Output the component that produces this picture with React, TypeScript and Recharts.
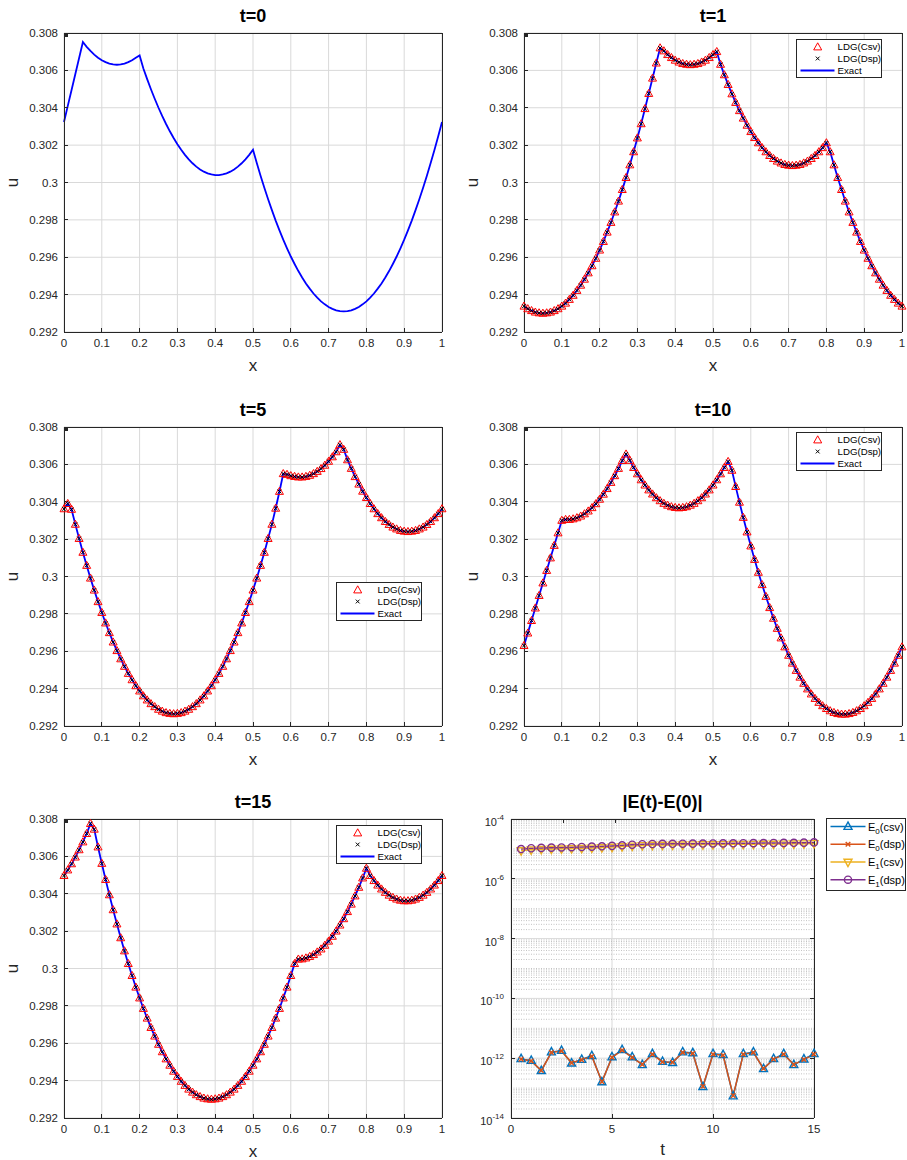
import React from "react";
import {
  CartesianGrid,
  ComposedChart,
  Legend,
  Line,
  ReferenceLine,
  XAxis,
  YAxis,
} from "recharts";

const FONT = '"Liberation Sans", Arial, Helvetica, sans-serif';
const INK = "#262626";
const GRID = "#d9d9d9";
const axisStroke = { stroke: INK, shapeRendering: "crispEdges" };

// sample positions on [0,1], step 0.01
const xs = Array.from({ length: 101 }, (_, i) => i / 100);
const xTicks = [0, 0.1, 0.2, 0.3, 0.4, 0.5, 0.6, 0.7, 0.8, 0.9, 1];
const uTicks = [0.292, 0.294, 0.296, 0.298, 0.3, 0.302, 0.304, 0.306, 0.308];

const u_t0 = [
  0.30324, 0.3041, 0.30495, 0.30581, 0.30666, 0.30752,
  0.30726, 0.30704, 0.30684, 0.30668, 0.30654, 0.30644, 0.30636, 0.30632, 0.3063, 0.30632, 0.30636, 0.30644, 0.30654, 0.30668, 0.3068,
  0.3061, 0.30553, 0.30499, 0.30448, 0.304, 0.30355, 0.30313, 0.30274, 0.30238, 0.30205,
  0.30175, 0.30148, 0.30124, 0.30103, 0.30085, 0.3007, 0.30058, 0.30049, 0.30043, 0.3004,
  0.3004, 0.30043, 0.30049, 0.30058, 0.3007, 0.30085, 0.30103, 0.30124, 0.30148, 0.30175,
  0.30104, 0.30036, 0.29972, 0.2991, 0.29852, 0.29796, 0.29744, 0.29694, 0.29648, 0.29604,
  0.29564, 0.29526, 0.29492, 0.2946, 0.29432, 0.29406, 0.29384, 0.29364, 0.29348, 0.29334,
  0.29324, 0.29316, 0.29312, 0.2931, 0.29312, 0.29316, 0.29324, 0.29334, 0.29348, 0.29364,
  0.29384, 0.29406, 0.29432, 0.2946, 0.29492, 0.29526, 0.29564, 0.29604, 0.29648, 0.29694,
  0.29744, 0.29796, 0.29852, 0.2991, 0.29972, 0.30036, 0.30104, 0.30174, 0.30248, 0.30324,
];

const u_t1 = [
  0.29338, 0.29324, 0.29314, 0.29306, 0.29302, 0.293, 0.29302, 0.29306, 0.29314, 0.29324, 0.29338,
  0.29354, 0.29374, 0.29396, 0.29422, 0.2945, 0.29482, 0.29516, 0.29554, 0.29594, 0.29638,
  0.29684, 0.29734, 0.29786, 0.29842, 0.299, 0.29962, 0.30026, 0.30094, 0.30164, 0.30238,
  0.30314, 0.30395, 0.30476, 0.30558, 0.30639, 0.3072, 0.30704, 0.30684, 0.30668, 0.30654,
  0.30644, 0.30636, 0.30632, 0.3063, 0.30632, 0.30636, 0.30644, 0.30654, 0.30668, 0.30684,
  0.307, 0.30632, 0.30576, 0.30524, 0.30474, 0.30428, 0.30384, 0.30344, 0.30306, 0.30272,
  0.3024, 0.30212, 0.30186, 0.30164, 0.30144, 0.30128, 0.30114, 0.30104, 0.30096, 0.30092,
  0.3009, 0.30092, 0.30096, 0.30104, 0.30114, 0.30128, 0.30144, 0.30164, 0.30186, 0.30212,
  0.30164, 0.30094, 0.30026, 0.29962, 0.299, 0.29842, 0.29786, 0.29734, 0.29684, 0.29638,
  0.29594, 0.29554, 0.29516, 0.29482, 0.2945, 0.29422, 0.29396, 0.29374, 0.29354, 0.29338,
];

const u_t5 = [
  0.30362, 0.3039, 0.30359, 0.30279, 0.30203, 0.30129, 0.30059, 0.29991, 0.29927, 0.29865, 0.29807,
  0.29751, 0.29699, 0.29649, 0.29603, 0.29559, 0.29519, 0.29481, 0.29447, 0.29415, 0.29387,
  0.29361, 0.29339, 0.29319, 0.29303, 0.29289, 0.29279, 0.29271, 0.29267, 0.29265, 0.29267,
  0.29271, 0.29279, 0.29289, 0.29303, 0.29319, 0.29339, 0.29361, 0.29387, 0.29415, 0.29447,
  0.29481, 0.29519, 0.29559, 0.29603, 0.29649, 0.29699, 0.29751, 0.29807, 0.29865, 0.29927,
  0.29991, 0.30059, 0.30129, 0.30203, 0.30279, 0.30365, 0.30455, 0.3055, 0.30546, 0.30539,
  0.30535, 0.30532, 0.30532, 0.30535, 0.30541, 0.3055, 0.30562, 0.30577, 0.30595, 0.30616,
  0.3064, 0.30667, 0.30705, 0.3068, 0.30624, 0.30578, 0.30534, 0.30494, 0.30456, 0.30422,
  0.3039, 0.30362, 0.30336, 0.30314, 0.30294, 0.30278, 0.30264, 0.30254, 0.30246, 0.30242,
  0.3024, 0.30242, 0.30246, 0.30254, 0.30264, 0.30278, 0.30294, 0.30314, 0.30336, 0.30362,
];

const u_t10 = [
  0.2963, 0.29697, 0.29764, 0.29831, 0.29898, 0.29965, 0.30032, 0.30099, 0.30166, 0.30233, 0.303,
  0.30305, 0.30305, 0.30308, 0.30314, 0.30323, 0.30335, 0.3035, 0.30368, 0.30389, 0.30413,
  0.3044, 0.3047, 0.30503, 0.30539, 0.30578, 0.3062, 0.30655, 0.30621, 0.30583, 0.30549,
  0.30517, 0.30489, 0.30463, 0.30441, 0.30421, 0.30405, 0.30391, 0.30381, 0.30373, 0.30369,
  0.30367, 0.30369, 0.30373, 0.30381, 0.30391, 0.30405, 0.30421, 0.30441, 0.30463, 0.30489,
  0.30517, 0.30549, 0.30583, 0.30615, 0.30568, 0.30481, 0.30397, 0.30316, 0.30238, 0.30163,
  0.30091, 0.30022, 0.29956, 0.29893, 0.29833, 0.29776, 0.29722, 0.29671, 0.29623, 0.29578,
  0.29536, 0.29497, 0.29461, 0.29428, 0.29398, 0.29371, 0.29347, 0.29326, 0.29308, 0.29293,
  0.29281, 0.29272, 0.29266, 0.29263, 0.29263, 0.29266, 0.29272, 0.29281, 0.29293, 0.29308,
  0.29326, 0.29347, 0.29371, 0.29398, 0.29428, 0.29461, 0.29497, 0.29536, 0.29578, 0.29623,
];

const u_t15 = [
  0.30497, 0.30527, 0.3056, 0.30596, 0.30635, 0.30677, 0.30722, 0.30775, 0.30745, 0.3065, 0.30562,
  0.30476, 0.30394, 0.30314, 0.30238, 0.30164, 0.30094, 0.30026, 0.29962, 0.299, 0.29842,
  0.29786, 0.29734, 0.29684, 0.29638, 0.29594, 0.29554, 0.29516, 0.29482, 0.2945, 0.29422,
  0.29396, 0.29374, 0.29354, 0.29338, 0.29324, 0.29314, 0.29306, 0.29302, 0.293, 0.29302,
  0.29306, 0.29314, 0.29324, 0.29338, 0.29354, 0.29374, 0.29396, 0.29422, 0.2945, 0.29482,
  0.29516, 0.29554, 0.29594, 0.29638, 0.29684, 0.29734, 0.29786, 0.29842, 0.299, 0.29962,
  0.30026, 0.3005, 0.30051, 0.30056, 0.30064, 0.30074, 0.30088, 0.30104, 0.30124, 0.30146,
  0.30172, 0.302, 0.30232, 0.30266, 0.30304, 0.30344, 0.30388, 0.30434, 0.30484, 0.30536,
  0.30497, 0.3047, 0.30446, 0.30425, 0.30407, 0.30392, 0.3038, 0.30371, 0.30365, 0.30362,
  0.30362, 0.30365, 0.30371, 0.3038, 0.30392, 0.30407, 0.30425, 0.30446, 0.3047, 0.30497,
];

// energy drift
const tE = [0.5, 1, 1.5, 2, 2.5, 3, 3.5, 4, 4.5, 5, 5.5, 6, 6.5, 7, 7.5, 8, 8.5, 9, 9.5, 10, 10.5, 11, 11.5, 12, 12.5, 13, 13.5, 14, 14.5, 15];
const e0Csv = [9.5e-13, 8.3e-13, 3.8e-13, 1.6e-12, 1.8e-12, 6.8e-13, 9.0e-13, 1.2e-12, 1.6e-13, 1.1e-12, 1.9e-12, 1.1e-12, 6.0e-13, 1.4e-12, 7.7e-13, 7.1e-13, 1.6e-12, 1.5e-12, 1.1e-13, 1.4e-12, 1.3e-12, 5.4e-14, 1.4e-12, 1.6e-12, 4.4e-13, 9.5e-13, 1.4e-12, 6.0e-13, 9.3e-13, 1.4e-12];
const e0Dsp = [9.3e-13, 8.1e-13, 3.9e-13, 1.55e-12, 1.75e-12, 7.0e-13, 8.8e-13, 1.15e-12, 1.65e-13, 1.05e-12, 1.85e-12, 1.05e-12, 6.2e-13, 1.35e-12, 7.5e-13, 7.3e-13, 1.55e-12, 1.45e-12, 1.15e-13, 1.35e-12, 1.25e-12, 5.6e-14, 1.35e-12, 1.55e-12, 4.5e-13, 9.2e-13, 1.35e-12, 6.1e-13, 9.0e-13, 1.35e-12];
const e1Csv = [8.8e-6, 9.4e-6, 9.7e-6, 9.9e-6, 1.01e-5, 1.03e-5, 1.05e-5, 1.08e-5, 1.11e-5, 1.15e-5, 1.2e-5, 1.26e-5, 1.31e-5, 1.34e-5, 1.35e-5, 1.36e-5, 1.37e-5, 1.38e-5, 1.39e-5, 1.4e-5, 1.41e-5, 1.42e-5, 1.43e-5, 1.44e-5, 1.45e-5, 1.46e-5, 1.47e-5, 1.48e-5, 1.5e-5, 1.53e-5];
const e1Dsp = [9.9e-6, 1.05e-5, 1.08e-5, 1.1e-5, 1.12e-5, 1.14e-5, 1.16e-5, 1.19e-5, 1.22e-5, 1.26e-5, 1.32e-5, 1.38e-5, 1.43e-5, 1.46e-5, 1.47e-5, 1.48e-5, 1.49e-5, 1.5e-5, 1.51e-5, 1.52e-5, 1.53e-5, 1.54e-5, 1.55e-5, 1.56e-5, 1.57e-5, 1.58e-5, 1.59e-5, 1.6e-5, 1.62e-5, 1.65e-5];
const eTicks = [1e-14, 1e-12, 1e-10, 1e-8, 1e-6, 1e-4];
const tTicks = [0, 5, 10, 15];

// dotted minor grid of the log axis
const minorGrid: number[] = [];
for (let n = -14; n < -4; n++) {
  for (let k = 1; k <= 9; k++) {
    if (k === 1 && n % 2 === 0) continue;
    minorGrid.push(k * Math.pow(10, n));
  }
}

// ---- marker shapes ----
const redTri = ({ cx, cy, index }: any) =>
  cx == null ? <g key={index} /> : (
    <polygon key={index} points={`${cx},${cy - 4.2} ${cx - 4},${cy + 2.9} ${cx + 4},${cy + 2.9}`} fill="none" stroke="#ff0000" strokeWidth={1} />
  );
const blackX = ({ cx, cy, index }: any) =>
  cx == null ? <g key={index} /> : (
    <path key={index} d={`M${cx - 1.9},${cy - 1.9}L${cx + 1.9},${cy + 1.9}M${cx - 1.9},${cy + 1.9}L${cx + 1.9},${cy - 1.9}`} stroke="#000" strokeWidth={1} />
  );
const blueUp = ({ cx, cy, index }: any) =>
  cx == null ? <g key={index} /> : (
    <polygon key={index} points={`${cx},${cy - 4.6} ${cx - 4},${cy + 2.8} ${cx + 4},${cy + 2.8}`} fill="none" stroke="#0072bd" strokeWidth={1.4} />
  );
const orangeX = ({ cx, cy, index }: any) =>
  cx == null ? <g key={index} /> : (
    <path key={index} d={`M${cx - 2.3},${cy - 2.3}L${cx + 2.3},${cy + 2.3}M${cx - 2.3},${cy + 2.3}L${cx + 2.3},${cy - 2.3}`} stroke="#d95319" strokeWidth={1.4} />
  );
const yellowDown = ({ cx, cy, index }: any) =>
  cx == null ? <g key={index} /> : (
    <polygon key={index} points={`${cx},${cy + 4.6} ${cx - 4},${cy - 2.8} ${cx + 4},${cy - 2.8}`} fill="none" stroke="#edb120" strokeWidth={1.4} />
  );
const purpleO = ({ cx, cy, index }: any) =>
  cx == null ? <g key={index} /> : <circle key={index} cx={cx} cy={cy} r={3.6} fill="none" stroke="#7e2f8e" strokeWidth={1.4} />;

// ---- axis labels ----
const xLabel = (text: string, dy: number) => (props: any) => {
  const vb = props.viewBox ?? { x: 0, y: 0, width: 0 };
  return (
    <text x={vb.x + vb.width / 2} y={vb.y + dy} textAnchor="middle" fontSize={17} fontFamily={FONT} fill={INK}>
      {text}
    </text>
  );
};
const uLabel = (props: any) => {
  const vb = props.viewBox ?? { x: 0, y: 0, height: 0 };
  const x = vb.x + 18;
  const y = vb.y + vb.height / 2;
  return (
    <text x={x} y={y} transform={`rotate(-90 ${x} ${y})`} textAnchor="middle" fontSize={17} fontFamily={FONT} fill={INK}>
      u
    </text>
  );
};

const PowTick = (props: any) => {
  const { x, y, payload } = props;
  const p = Math.round(Math.log10(payload.value));
  return (
    <text x={x} y={y + 7} textAnchor="end" fill={INK} fontFamily={FONT} fontSize={11}>
      10<tspan dy={-6} fontSize={8}>{p}</tspan>
    </text>
  );
};
const noTick = () => <g />;

// ---- legends ----
const uOrder = ["LDG(Csv)", "LDG(Dsp)", "Exact"];
function ULegendBox({ payload }: any) {
  const items = [...(payload ?? [])].sort((a: any, b: any) => uOrder.indexOf(a.value) - uOrder.indexOf(b.value));
  return (
    <svg width={86} height={39} style={{ display: "block" }}>
      <rect x={0.5} y={0.5} width={85} height={38} fill="#fff" stroke={INK} />
      {items.map((p: any, i: number) => {
        const y = 7.5 + 12 * i;
        return (
          <g key={p.value}>
            {p.value === "LDG(Csv)" && redTri({ cx: 21.7, cy: y + 0.5, index: "l" })}
            {p.value === "LDG(Dsp)" && blackX({ cx: 21.7, cy: y, index: "l" })}
            {p.value === "Exact" && <line x1={4.5} x2={38.5} y1={y} y2={y} stroke="#0000ff" strokeWidth={1.8} />}
            <text x={41.5} y={y + 3.4} fontSize={9.7} fontFamily={FONT} fill="#000">
              {p.value}
            </text>
          </g>
        );
      })}
    </svg>
  );
}

const eOrder = ["e0c", "e0d", "e1c", "e1d"];
const eStyle: Record<string, { color: string; mark: (p: any) => any; sub: string; tag: string }> = {
  e0c: { color: "#0072bd", mark: blueUp, sub: "0", tag: "(csv)" },
  e0d: { color: "#d95319", mark: orangeX, sub: "0", tag: "(dsp)" },
  e1c: { color: "#edb120", mark: yellowDown, sub: "1", tag: "(csv)" },
  e1d: { color: "#7e2f8e", mark: purpleO, sub: "1", tag: "(dsp)" },
};

function ELegendBox({ payload }: any) {
  const items = [...(payload ?? [])].sort((a: any, b: any) => eOrder.indexOf(a.dataKey) - eOrder.indexOf(b.dataKey));
  return (
    <svg width={80} height={73} style={{ display: "block" }}>
      <rect x={0.5} y={0.5} width={79} height={72} fill="#fff" stroke={INK} />
      {items.map((p: any, i: number) => {
        const s = eStyle[p.dataKey];
        if (!s) return null;
        const y = 8.6 + 17.7 * i;
        return (
          <g key={p.dataKey}>
            <line x1={4.5} x2={39.5} y1={y} y2={y} stroke={s.color} strokeWidth={1.5} />
            {s.mark({ cx: 22, cy: y, index: "l" })}
            <text x={42} y={y + 4} fontSize={11} fontFamily={FONT} fill="#000">
              E<tspan dy={3} fontSize={8}>{s.sub}</tspan>
              <tspan dy={-3}>{s.tag}</tspan>
            </text>
          </g>
        );
      })}
    </svg>
  );
}

// ---- panels ----
const titleStyle = (w: number): React.CSSProperties => ({
  position: "absolute",
  left: 64,
  top: 7,
  width: w,
  textAlign: "center",
  fontFamily: FONT,
  fontWeight: "bold",
  fontSize: 18,
  lineHeight: "18px",
  color: "#000",
});

const tickFont = { fill: INK, fontSize: 11.5, fontFamily: FONT };

function UPanel({ title, values, left, top, width, legendTop }: { title: string; values: number[]; left: number; top: number; width: number; legendTop?: number }) {
  const rows = xs.map((x, i) => ({ x, csv: values[i], dsp: values[i], exact: values[i] }));
  const mr = width - 64 - 378 - 1;
  const markers = legendTop != null;
  return (
    <div style={{ position: "absolute", left, top, width, height: 374 }}>
      <div style={titleStyle(378)}>{title}</div>
      <ComposedChart width={width} height={374} data={rows} margin={{ top: 32, right: mr, bottom: 4, left: 0 }}>
        <CartesianGrid stroke={GRID} />
        <XAxis
          dataKey="x"
          type="number"
          domain={[0, 1]}
          ticks={xTicks}
          interval={0}
          height={38}
          tickSize={-4}
          tickMargin={11}
          tick={tickFont}
          axisLine={axisStroke}
          tickLine={axisStroke}
          label={xLabel("x", 38.5)}
        />
        <XAxis xAxisId="top" orientation="top" type="number" domain={[0, 1]} ticks={xTicks.slice(1, -1)} interval={0} height={1} tickSize={-4} tick={noTick} axisLine={axisStroke} tickLine={axisStroke} />
        <YAxis
          type="number"
          domain={[0.292, 0.308]}
          ticks={uTicks}
          interval={0}
          width={64}
          tickSize={-4}
          tickMargin={10}
          tick={tickFont}
          tickFormatter={(v: number) => String(Number(v.toFixed(3)))}
          axisLine={axisStroke}
          tickLine={axisStroke}
          label={uLabel}
        />
        <YAxis yAxisId="right" orientation="right" type="number" domain={[0.292, 0.308]} ticks={uTicks.slice(1, -1)} interval={0} width={1} tickSize={-4} tick={noTick} axisLine={axisStroke} tickLine={axisStroke} />
        {markers && <Line dataKey="csv" name="LDG(Csv)" stroke="none" dot={redTri} activeDot={false} isAnimationActive={false} />}
        {markers && <Line dataKey="dsp" name="LDG(Dsp)" stroke="none" dot={blackX} activeDot={false} isAnimationActive={false} />}
        <Line dataKey="exact" name="Exact" type="linear" stroke="#0000ff" strokeWidth={1.8} dot={false} activeDot={false} isAnimationActive={false} />
        {markers && (
          <Legend
            layout="vertical"
            align="center"
            verticalAlign="middle"
            wrapperStyle={{ top: legendTop, left: 336, width: 86, height: 39 }}
            content={(p: any) => <ULegendBox {...p} />}
          />
        )}
      </ComposedChart>
    </div>
  );
}

function EnergyPanel() {
  const rows = tE.map((t, i) => ({ t, e0c: e0Csv[i], e0d: e0Dsp[i], e1c: e1Csv[i], e1d: e1Dsp[i] }));
  return (
    <div style={{ position: "absolute", left: 447, top: 786, width: 460, height: 374 }}>
      <div style={titleStyle(303)}>|E(t)-E(0)|</div>
      <ComposedChart width={460} height={374} data={rows} margin={{ top: 32, right: 92, bottom: 4, left: 0 }}>
        <CartesianGrid stroke={GRID} />
        {minorGrid.map((v) => (
          <ReferenceLine key={v} y={v} stroke="#b4b4b4" strokeWidth={0.8} strokeDasharray="1 1.5" />
        ))}
        <XAxis
          dataKey="t"
          type="number"
          domain={[0, 15]}
          ticks={tTicks}
          interval={0}
          height={38}
          tickSize={-4}
          tickMargin={11}
          tick={tickFont}
          axisLine={axisStroke}
          tickLine={axisStroke}
          label={xLabel("t", 37)}
        />
        <XAxis xAxisId="top" orientation="top" type="number" domain={[0, 15]} ticks={tTicks.slice(1, -1)} interval={0} height={1} tickSize={-4} tick={noTick} axisLine={axisStroke} tickLine={axisStroke} />
        <YAxis
          type="number"
          scale="log"
          domain={[1e-14, 1e-4]}
          allowDataOverflow
          ticks={eTicks}
          interval={0}
          width={64}
          tickSize={-4}
          tickMargin={11}
          tick={PowTick}
          axisLine={axisStroke}
          tickLine={axisStroke}
        />
        <YAxis yAxisId="right" orientation="right" type="number" scale="log" domain={[1e-14, 1e-4]} allowDataOverflow ticks={eTicks.slice(1, -1)} interval={0} width={1} tickSize={-4} tick={noTick} axisLine={axisStroke} tickLine={axisStroke} />
        <Line dataKey="e0c" name="E0(csv)" stroke="#0072bd" strokeWidth={1.5} dot={blueUp} activeDot={false} isAnimationActive={false} />
        <Line dataKey="e0d" name="E0(dsp)" stroke="#d95319" strokeWidth={1.5} dot={orangeX} activeDot={false} isAnimationActive={false} />
        <Line dataKey="e1c" name="E1(csv)" stroke="#edb120" strokeWidth={1.5} dot={yellowDown} activeDot={false} isAnimationActive={false} />
        <Line dataKey="e1d" name="E1(dsp)" stroke="#7e2f8e" strokeWidth={1.5} dot={purpleO} activeDot={false} isAnimationActive={false} />
        <Legend
          layout="vertical"
          align="center"
          verticalAlign="middle"
          wrapperStyle={{ top: 32, left: 379, width: 80, height: 73 }}
          content={(p: any) => <ELegendBox {...p} />}
        />
      </ComposedChart>
    </div>
  );
}

export default function App() {
  return (
    <div style={{ position: "absolute", left: 0, top: 0, width: 907, height: 1160, background: "#fff", overflow: "hidden" }}>
      <UPanel title="t=0" values={u_t0} left={0} top={0} width={450} />
      <UPanel title="t=1" values={u_t1} left={460} top={0} width={447} legendTop={39} />
      <UPanel title="t=5" values={u_t5} left={0} top={394} width={450} legendTop={188} />
      <UPanel title="t=10" values={u_t10} left={460} top={394} width={447} legendTop={38} />
      <UPanel title="t=15" values={u_t15} left={0} top={786} width={450} legendTop={39} />
      <EnergyPanel />
    </div>
  );
}
